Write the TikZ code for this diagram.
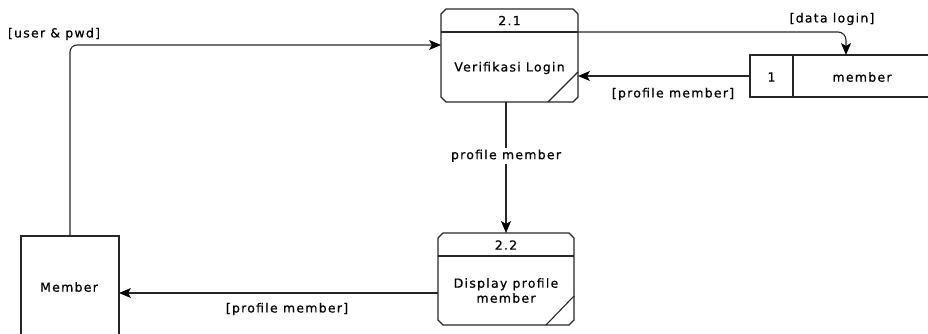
\documentclass[tikz,border=0pt]{standalone}
\usepackage{fontspec}
\setmainfont{DejaVu Sans}[LetterSpace=10,FakeBold=0.6]
\usetikzlibrary{arrows.meta,calc}

\tikzset{
  edge/.style={line width=1.1pt, draw=black!85},
  flow/.style={edge, -{Stealth[length=12pt,width=10pt,inset=3pt,color=black,fill=black]}},
  area/.style={rectangle, draw=none, inner sep=0pt, outer sep=0pt},
  txt/.style={font=\fontsize{12.5}{14}\selectfont, inner sep=1pt, text=black},
  lbl/.style={txt, fill=white, inner sep=2pt}
}

\begin{document}
\begin{tikzpicture}[x=1pt, y=-1pt]
\useasboundingbox (0,0) rectangle (928,333);

% process 2.1
\node[area, minimum width=137pt, minimum height=93pt] (p21) at (509.5,55.5) {};
\draw[edge] ($(p21.north west)+(5,0)$) -- ($(p21.north east)+(-5,0)$)
  -- ($(p21.north east)+(0,5)$) -- ($(p21.south east)+(0,-5)$)
  -- ($(p21.south east)+(-5,0)$) -- ($(p21.south west)+(5,0)$)
  -- ($(p21.south west)+(0,-5)$) -- ($(p21.north west)+(0,5)$) -- cycle;
\draw[edge] ($(p21.north west)+(0,23)$) -- ($(p21.north east)+(0,23)$);
\draw[edge] ($(p21.south east)+(0,-30)$) -- ($(p21.south east)+(-30,0)$);
\node[txt] (p21id) at (509.5,20.5) {2.1};
\node[txt] (p21name) at (509.5,68) {Verifikasi Login};

% process 2.2
\node[area, minimum width=136pt, minimum height=92pt] (p22) at (506,279) {};
\draw[edge] ($(p22.north west)+(5,0)$) -- ($(p22.north east)+(-5,0)$)
  -- ($(p22.north east)+(0,5)$) -- ($(p22.south east)+(0,-5)$)
  -- ($(p22.south east)+(-5,0)$) -- ($(p22.south west)+(5,0)$)
  -- ($(p22.south west)+(0,-5)$) -- ($(p22.north west)+(0,5)$) -- cycle;
\draw[edge] ($(p22.north west)+(0,23)$) -- ($(p22.north east)+(0,23)$);
\draw[edge] ($(p22.south east)+(0,-29)$) -- ($(p22.south east)+(-28,0)$);
\node[txt] (p22id) at (506,245) {2.2};
\node[txt, align=center] (p22name) at (506,290.5) {Display profile\\[1pt]member};

% data store 1: member (open to the right)
\node[area, minimum width=180pt, minimum height=42pt] (ds) at (840,76) {};
\draw[edge] (ds.north east) -- (ds.north west) -- (ds.south west) -- (ds.south east);
\draw[edge] ($(ds.north west)+(43,0)$) -- ($(ds.south west)+(43,0)$);
\node[txt] (dsid) at (771.5,77) {1};
\node[txt] (dsname) at (862,77) {member};

% external entity: Member (runs past the bottom edge)
\node[area, minimum width=98pt, minimum height=110pt] (ent) at (70,291) {};
\draw[edge] (ent.south west) -- (ent.north west) -- (ent.north east) -- (ent.south east);
\node[txt] (entname) at (69,287) {Member};

% ports where flows meet the boxes
\coordinate (p21in) at ($(p21.north west)+(0,36)$);
\coordinate (p21hdr) at ($(p21.north east)+(0,23)$);
\coordinate (dstop) at ($(ds.north west)+(96,0)$);
\coordinate (p22out) at ($(p22.west)+(0,14)$);

% data flows
\draw[flow, rounded corners=7pt] (ent.north) |- (p21in);
\node[txt] (fuser) at (54,34) {[user \& pwd]};

\draw[flow, rounded corners=8pt] (p21hdr) -| (dstop);
\node[txt] (fdata) at (832,19) {[data login]};

\draw[flow] (ds.west) -- (ds.west -| p21.east);
\node[txt] (fprof1) at (673,94) {[profile member]};

\draw[flow] (p21.south -| p22.north) -- (p22.north)
  node[lbl, pos=0.41] (fprof2) {profile member};

\draw[flow] (p22out) -- (p22out -| ent.east);
\node[txt] (fprof3) at (287,309) {[profile member]};
\end{tikzpicture}
\end{document}
